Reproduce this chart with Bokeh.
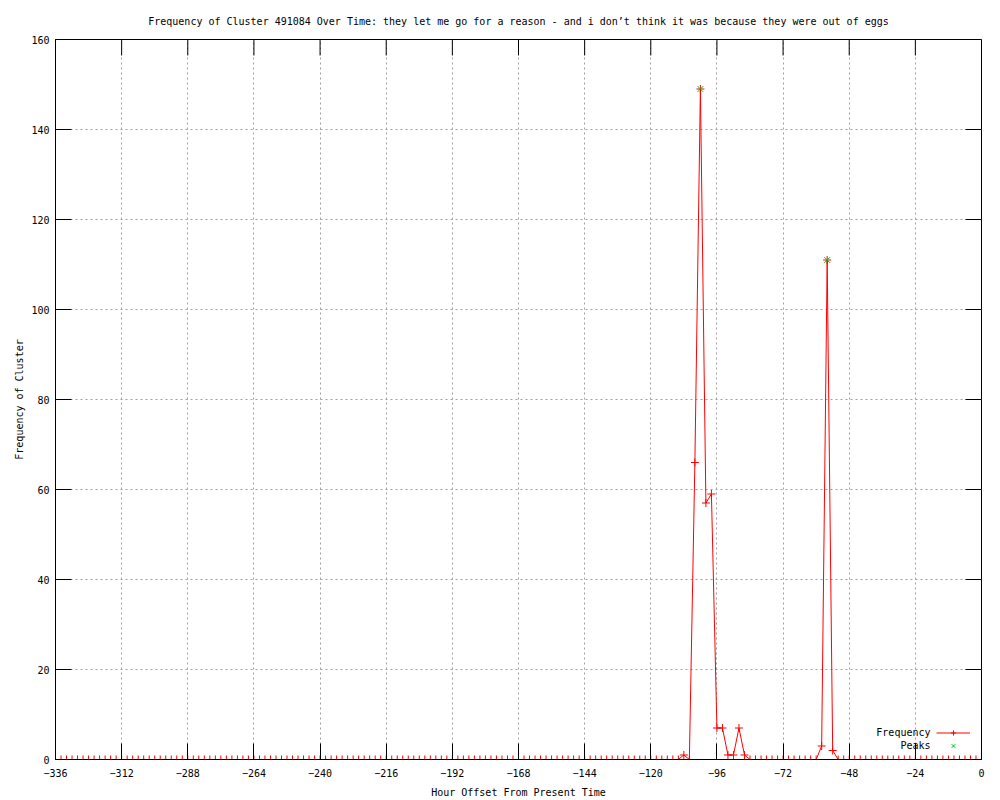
from bokeh.plotting import figure
from bokeh.models import Range1d, FixedTicker, Legend, LegendItem, Label
from bokeh.embed import file_html
from bokeh.resources import INLINE

# ---- data ----
hours = list(range(-336, 1, 2))
counts = [
    0, 0, 0, 0, 0, 0, 0, 0, 0, 0,        # -336 .. -318
    0, 0, 0, 0, 0, 0, 0, 0, 0, 0,        # -316 .. -298
    0, 0, 0, 0, 0, 0, 0, 0, 0, 0,        # -296 .. -278
    0, 0, 0, 0, 0, 0, 0, 0, 0, 0,        # -276 .. -258
    0, 0, 0, 0, 0, 0, 0, 0, 0, 0,        # -256 .. -238
    0, 0, 0, 0, 0, 0, 0, 0, 0, 0,        # -236 .. -218
    0, 0, 0, 0, 0, 0, 0, 0, 0, 0,        # -216 .. -198
    0, 0, 0, 0, 0, 0, 0, 0, 0, 0,        # -196 .. -178
    0, 0, 0, 0, 0, 0, 0, 0, 0, 0,        # -176 .. -158
    0, 0, 0, 0, 0, 0, 0, 0, 0, 0,        # -156 .. -138
    0, 0, 0, 0, 0, 0, 0, 0, 0, 0,        # -136 .. -118
    0, 0, 0, 0, 1, 0, 66, 149, 57, 59,   # -116 .. -98
    7, 7, 1, 1, 7, 1, 0, 0, 0, 0,        # -96 .. -78
    0, 0, 0, 0, 0, 0, 0, 0, 0, 3,        # -76 .. -58
    111, 2, 0, 0, 0, 0, 0, 0, 0, 0,      # -56 .. -38
    0, 0, 0, 0, 0, 0, 0, 0, 0, 0,        # -36 .. -18
    0, 0, 0, 0, 0, 0, 0, 0, 0,           # -16 .. 0
]
peak_hours = [-102, -56]
peak_counts = [149, 111]

x_ticks = [-336, -312, -288, -264, -240, -216, -192, -168, -144, -120, -96, -72, -48, -24, 0]
y_ticks = [0, 20, 40, 60, 80, 100, 120, 140, 160]

title = ("Frequency of Cluster 491084 Over Time: they let me go for a reason - "
         "and i don\u2019t think it was because they were out of eggs")

FONT = "DejaVu Sans Mono"
RED = "#ff0000"
GREEN = "#00c000"

X0, X1, Y0, Y1 = -336, 0, 0, 160
FRAME_W, FRAME_H = 926, 721
TICK = 16

p = figure(width=1000, height=800,
           x_range=Range1d(X0, X1), y_range=Range1d(Y0, Y1),
           output_backend="svg", toolbar_location=None,
           min_border_left=55, min_border_right=1000 - 55 - FRAME_W,
           min_border_top=39, min_border_bottom=800 - 39 - FRAME_H,
           x_axis_label="Hour Offset From Present Time",
           y_axis_label="Frequency of Cluster",
           title=title)

p.title.align = "center"
p.title.text_font = FONT
p.title.text_font_size = "10px"
p.title.text_font_style = "normal"
p.title.text_color = "black"
p.title.standoff = 25

p.background_fill_color = "white"
p.border_fill_color = "white"
p.outline_line_color = "black"
p.outline_line_alpha = 1

p.xaxis.ticker = FixedTicker(ticks=x_ticks)
p.yaxis.ticker = FixedTicker(ticks=y_ticks)
p.xgrid.ticker = FixedTicker(ticks=x_ticks)
p.ygrid.ticker = FixedTicker(ticks=y_ticks)
p.grid.grid_line_color = "#a0a0a0"
p.grid.grid_line_dash = "2 3"
p.grid.grid_line_width = 1

for ax in p.axis:
    ax.major_tick_in = TICK
    ax.major_tick_out = 0
    ax.minor_tick_in = 0
    ax.minor_tick_out = 0
    ax.axis_line_color = "black"
    ax.major_tick_line_color = "black"
    ax.major_label_text_font = FONT
    ax.major_label_text_font_size = "10px"
    ax.major_label_text_color = "black"
    ax.axis_label_text_font = FONT
    ax.axis_label_text_font_size = "10px"
    ax.axis_label_text_font_style = "normal"
    ax.axis_label_text_color = "black"

p.yaxis.major_label_standoff = 6
p.yaxis.axis_label_standoff = 3
p.xaxis.major_label_standoff = 9
p.xaxis.axis_label_standoff = 7

# mirrored ticks on the top and right edges (gnuplot style)
hpp = (X1 - X0) / FRAME_W   # hours per pixel
cpp = (Y1 - Y0) / FRAME_H   # counts per pixel
p.segment(x0=x_ticks, y0=[Y1] * len(x_ticks), x1=x_ticks, y1=[Y1 - TICK * cpp] * len(x_ticks),
          line_color="black", line_width=1)
p.segment(x0=[X1] * len(y_ticks), y0=y_ticks, x1=[X1 - TICK * hpp] * len(y_ticks), y1=y_ticks,
          line_color="black", line_width=1)

line_r = p.line(hours, counts, line_color=RED, line_width=1)
pts_r = p.scatter(hours, counts, marker="cross", size=8, line_color=RED, line_width=1)
peak_r = p.scatter(peak_hours, peak_counts, marker="x", size=8, line_color=GREEN, line_width=1)

legend = Legend(items=[LegendItem(label="Frequency", renderers=[line_r, pts_r]),
                       LegendItem(label="Peaks", renderers=[peak_r])],
                location=(881, 7), orientation="vertical",
                glyph_width=34, glyph_height=13, label_height=13, label_width=0,
                label_standoff=0, label_text_font_size="1px", label_text_alpha=0,
                padding=0, spacing=0, margin=0,
                border_line_alpha=0, background_fill_alpha=0)
p.add_layout(legend)

# legend texts to the left of the samples (gnuplot style)
text_x = X0 + (930 - 55) * hpp
for lbl, py in (("Frequency", 733), ("Peaks", 746)):
    p.add_layout(Label(x=text_x, y=(760 - py) * cpp, text=lbl,
                       text_align="right", text_baseline="middle",
                       text_font=FONT, text_font_size="10px", text_color="black"))

open("out.html", "w").write(file_html(p, INLINE))
